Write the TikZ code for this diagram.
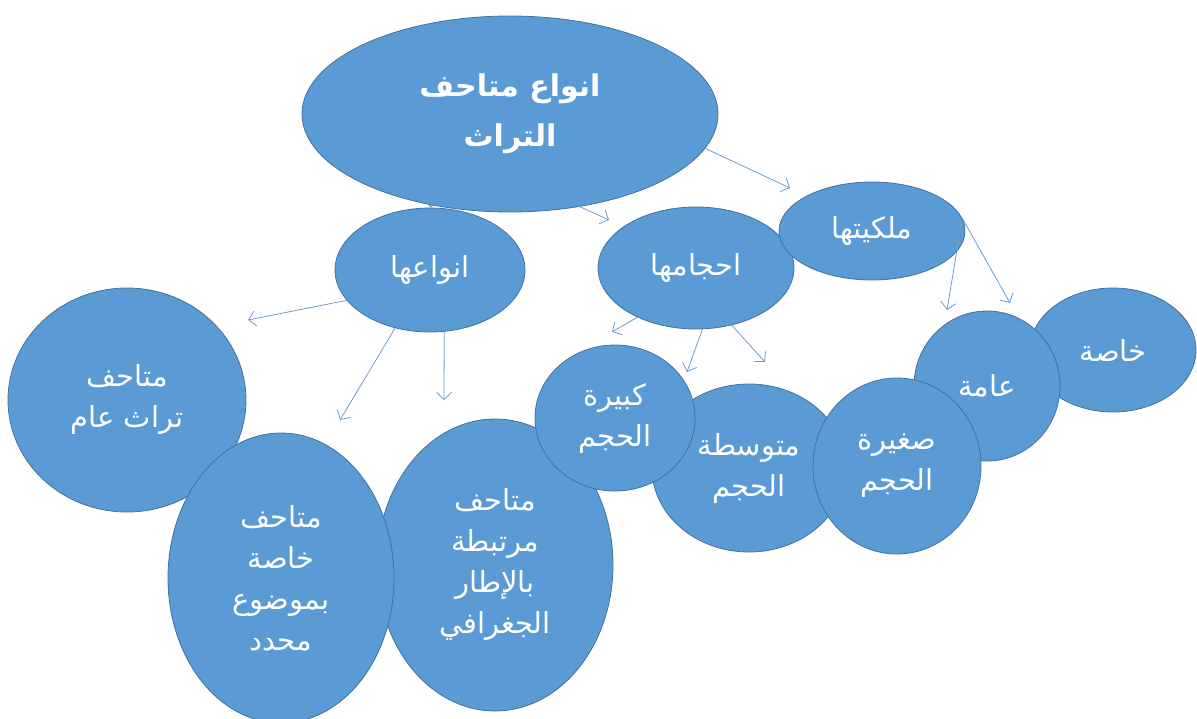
\documentclass[tikz,border=0pt]{standalone}
\usepackage{fontspec}
\newfontfamily\arabicfont[Script=Arabic]{DejaVu Sans}
\TeXXeTstate=1
\usetikzlibrary{shapes.geometric, arrows.meta}

\definecolor{bubblefill}{HTML}{5B9BD5}
\definecolor{bubbleline}{HTML}{41719C}
\definecolor{arrowline}{HTML}{6E9BCB}
\newcommand{\artxt}[1]{\beginR #1\endR}

\tikzset{
    bubble/.style={ellipse, draw=bubbleline, line width=0.8pt, fill=bubblefill,
        text=white, inner sep=0pt, align=center,
        font=\arabicfont\fontsize{29}{41}\selectfont},
    arr/.style={draw=arrowline, line width=0.8pt, -{Straight Barb[length=7pt,width=15pt]}}
}

\begin{document}
\begin{tikzpicture}[x=1pt, y=-1pt]
        \useasboundingbox (0,0) rectangle (1197,718);

        % top level
        \node[bubble, minimum width=416pt, minimum height=196pt,
            font=\arabicfont\bfseries\fontsize{30}{50}\selectfont] (root) at (510,114)
            {\artxt{انواع متاحف}\\\artxt{التراث}};
        \node[bubble, minimum width=190pt, minimum height=124pt] (kinds) at (430,270) {\artxt{انواعها}};
        \node[bubble, minimum width=196pt, minimum height=122pt] (sizes) at (696,268) {\artxt{احجامها}};
        \node[bubble, minimum width=186pt, minimum height=98pt] (owner) at (872,231) {\artxt{ملكيتها}};

        % kinds
        \node[bubble, minimum width=238pt, minimum height=224pt] (general) at (127,400) {\artxt{متاحف}\\\artxt{تراث عام}};
        \node[bubble, minimum width=236pt, minimum height=292pt] (geo) at (495,565) {\artxt{متاحف}\\\artxt{مرتبطة}\\\artxt{بالإطار}\\\artxt{الجغرافي}};
        \node[bubble, minimum width=226pt, minimum height=290pt] (topic) at (281,578) {\artxt{متاحف}\\\artxt{خاصة}\\\artxt{بموضوع}\\\artxt{محدد}};

        % sizes
        \node[bubble, minimum width=194pt, minimum height=168pt] (medium) at (749,468) {\artxt{متوسطة}\\\artxt{الحجم}};
        \node[bubble, minimum width=160pt, minimum height=146pt] (big) at (615,418) {\artxt{كبيرة}\\\artxt{الحجم}};

        % owner
        \node[bubble, minimum width=166pt, minimum height=124pt] (private) at (1113,350) {\artxt{خاصة}};
        \node[bubble, minimum width=146pt, minimum height=150pt] (public) at (987,386) {\artxt{عامة}};
        \node[bubble, minimum width=168pt, minimum height=176pt] (small) at (897,466) {\artxt{صغيرة}\\\artxt{الحجم}};

        % free arrow ends
        \coordinate (tsizes) at (609,220);
        \coordinate (towner) at (790,188);
        \coordinate (tgeneral) at (248,320);
        \coordinate (ttopic) at (340,420);
        \coordinate (tgeo) at (444,400);
        \coordinate (tbig) at (612,332);
        \coordinate (tmedium) at (687,372);
        \coordinate (tsmall) at (765,362);
        \coordinate (tpublic) at (947,310);
        \coordinate (tprivate) at (1010,303);

        \draw[arr] (root.229) -- (kinds);
        \draw[arr] (root.307) -- (tsizes);
        \draw[arr] (root.350) -- (towner);

        \draw[arr] (kinds.200) -- (tgeneral);
        \draw[arr] (kinds.239) -- (ttopic);
        \draw[arr] (kinds.283) -- (tgeo);

        \draw[arr] (sizes.220) -- (tbig);
        \draw[arr] (sizes.276) -- (tmedium);
        \draw[arr] (sizes.302) -- (tsmall);

        \draw[arr] (owner.8) -- (tpublic);
        \draw[arr] (owner.8) -- (tprivate);
    \end{tikzpicture}
\end{document}
